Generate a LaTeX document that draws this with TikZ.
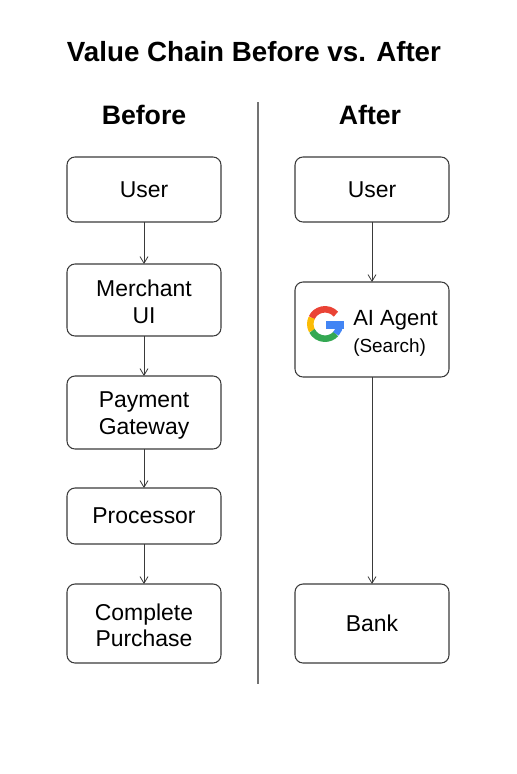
\documentclass[tikz,border=0pt]{standalone}
\usepackage{fontspec}
\setmainfont{Liberation Sans}
\usepackage{xcolor}
\usetikzlibrary{calc, positioning, arrows.meta}

\definecolor{gred}{HTML}{EA4335}
\definecolor{gyellow}{HTML}{FBBC05}
\definecolor{ggreen}{HTML}{34A853}
\definecolor{gblue}{HTML}{4285F4}
\definecolor{boxline}{HTML}{3A3A3A}

\tikzset{
    stagebox/.style={draw=boxline, line width=0.8pt, rounded corners=6pt, minimum width=115.5pt,
        align=center, font=\fontsize{17.2}{20}\selectfont, inner sep=0pt, outer sep=0pt},
    flowarrow/.style={draw=boxline, line width=0.6pt, -{Straight Barb[length=5pt,width=6pt]}},
    headtext/.style={font=\fontsize{20}{24}\selectfont\bfseries},
}

\begin{document}
\begin{tikzpicture}[x=0.75pt, y=-0.75pt]
    \useasboundingbox (0,0) rectangle (517,774);

    % Title and column heads
    \node[font=\fontsize{20.8}{24}\selectfont\bfseries] (title) at (254,52) {Value Chain Before vs. After};
    \node[headtext] (before) at (144,115) {Before};
    \node[headtext] (after) at (370,115) {After};

    % Divider
    \coordinate (divtop) at (258,102);
    \coordinate (divbot) at (258,684);
    \draw[draw=gray!90!black, line width=0.9pt] (divtop) -- (divbot);

    % Left column
    \node[stagebox, minimum height=48.75pt] (user1) at (144,189.5) {User};
    \node[stagebox, minimum height=54pt, below=31.5pt of user1] (merchant) {\rule{0pt}{15pt}Merchant\\UI};
    \node[stagebox, minimum height=54.75pt, below=30pt of merchant] (payment) {\rule{0pt}{16.5pt}Payment\\Gateway};
    \node[stagebox, minimum height=42pt, below=29.25pt of payment] (processor) {Processor};
    \node[stagebox, minimum height=59.25pt, below=30pt of processor] (complete) {\rule{0pt}{15pt}Complete\\Purchase};

    % Right column
    \node[stagebox, minimum height=48.75pt] (user2) at (372,189.5) {User};
    \node[stagebox, minimum height=71.25pt, below=45pt of user2] (agent) {};
    \node[stagebox, minimum height=59.25pt] (bank) at (372,623.5) {Bank};

    % Agent text and logo
    \node[anchor=west, align=left, inner sep=0pt, font=\fontsize{16.5}{20}\selectfont] (agentlabel) at (353,333.5)
        {AI Agent\\[0.5pt]{\fontsize{14.2}{18}\selectfont (Search)}};
    \coordinate (logo) at (325,324);
    \draw[gred, line width=4.9pt] (logo) ++(-42:14.7) arc (-42:-155:14.7);
    \draw[gyellow, line width=4.9pt] (logo) ++(-155:14.7) arc (-155:-208:14.7);
    \draw[ggreen, line width=4.9pt] (logo) ++(-208:14.7) arc (-208:-318:14.7);
    \draw[gblue, line width=4.9pt] (logo) ++(-318:14.7) arc (-318:-360:14.7);
    \fill[gblue] ($(logo)+(1,-3)$) rectangle ($(logo)+(18.5,5)$);

    % Arrows
    \draw[flowarrow] (user1) -- (merchant);
    \draw[flowarrow] (merchant) -- (payment);
    \draw[flowarrow] (payment) -- (processor);
    \draw[flowarrow] (processor) -- (complete);
    \draw[flowarrow] (user2) -- (agent);
    \draw[flowarrow] (agent) -- (bank);
\end{tikzpicture}
\end{document}
